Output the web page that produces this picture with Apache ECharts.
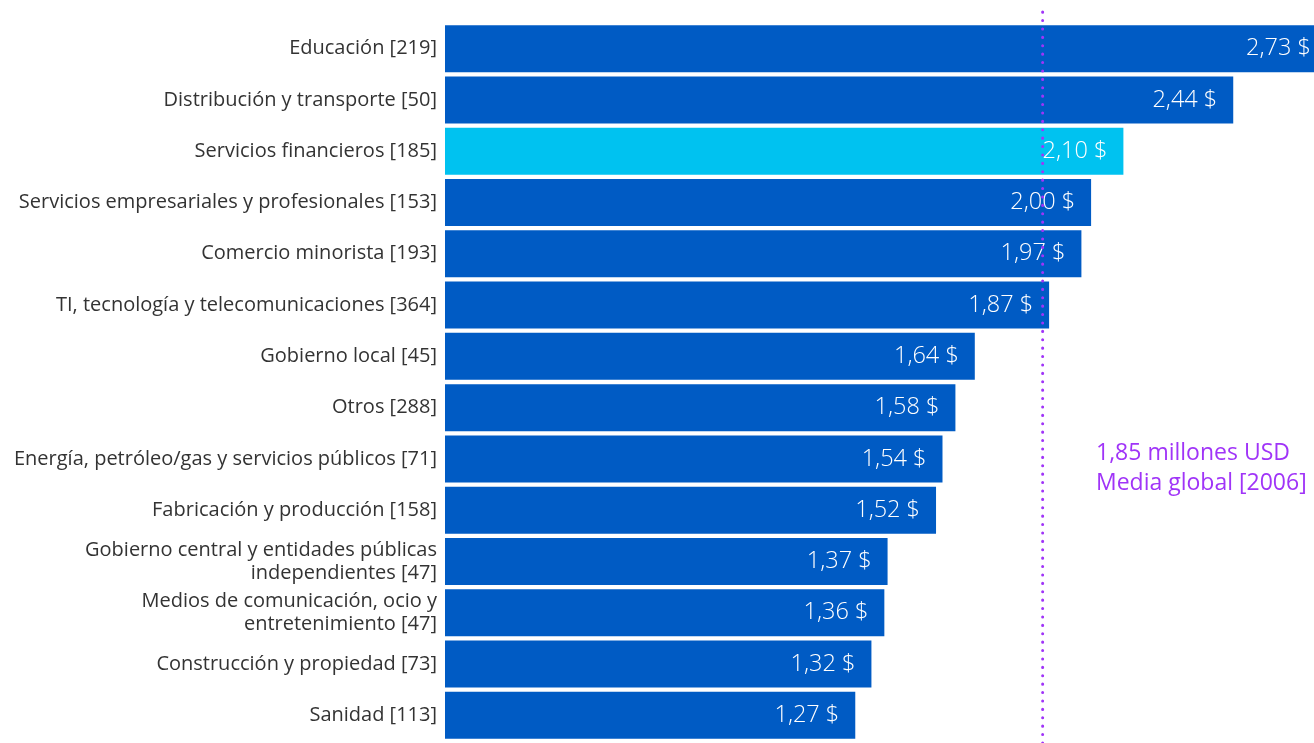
<!DOCTYPE html>
<html>
<head>
<meta charset="utf-8">
<script src="https://cdn.jsdelivr.net/npm/echarts@6/dist/echarts.min.js"></script>
<style>
  html, body { margin: 0; padding: 0; background: #ffffff; }
  #chart { width: 1314px; height: 743px; }
</style>
</head>
<body>
<div id="chart"></div>
<script>
// Sector names, respondents per sector and average cost (millions USD)
const sectors = [
  'Educación',
  'Distribución y transporte',
  'Servicios financieros',
  'Servicios empresariales y profesionales',
  'Comercio minorista',
  'TI, tecnología y telecomunicaciones',
  'Gobierno local',
  'Otros',
  'Energía, petróleo/gas y servicios públicos',
  'Fabricación y producción',
  'Gobierno central y entidades públicas\nindependientes',
  'Medios de comunicación, ocio y\nentretenimiento',
  'Construcción y propiedad',
  'Sanidad'
];
const respondents = [219, 50, 185, 153, 193, 364, 45, 288, 71, 158, 47, 47, 73, 113];
const avgCost = [2.73, 2.44, 2.10, 2.00, 1.97, 1.87, 1.64, 1.58, 1.54, 1.52, 1.37, 1.36, 1.32, 1.27];
const highlighted = 'Servicios financieros';

// Global average
const globalMean = 1.85;
const globalRespondents = 2006;

const BLUE = '#005bc4';
const CYAN = '#00c2f0';
const PURPLE = '#a034f8';
// Axis runs to the right edge; the largest bar is allowed to run past it
const X_MAX = 2.69;
const FONT = '"Open Sans", sans-serif';

const labels = sectors.map((s, i) => `${s} [${respondents[i]}]`);
const fmt = v => v.toFixed(2).replace('.', ',') + ' $';

const chart = echarts.init(document.getElementById('chart'), null, { renderer: 'canvas' });

chart.setOption({
  animation: false,
  backgroundColor: '#ffffff',
  textStyle: { fontFamily: FONT },
  grid: [
    { left: 445, top: 23, right: 0, height: 718, containLabel: false },
    { left: 445, top: 10, right: 0, bottom: 0, containLabel: false }
  ],
  xAxis: [
    { type: 'value', gridIndex: 0, min: 0, max: X_MAX, show: false },
    { type: 'value', gridIndex: 1, min: 0, max: X_MAX, show: false }
  ],
  yAxis: [
    {
      type: 'category', gridIndex: 0, inverse: true, data: labels,
      axisLine: { show: false }, axisTick: { show: false },
      axisLabel: {
        color: '#333333', fontSize: 20, margin: 8, lineHeight: 23,
        fontFamily: FONT, align: 'right'
      }
    },
    { type: 'value', gridIndex: 1, min: 0, max: 1, show: false }
  ],
  series: [
    {
      type: 'bar', xAxisIndex: 0, yAxisIndex: 0,
      barWidth: 47,
      clip: false,
      data: avgCost.map((v, i) => ({
        value: v,
        itemStyle: { color: sectors[i] === highlighted ? CYAN : BLUE }
      })),
      label: {
        show: true, position: 'insideRight', distance: 16,
        color: '#ffffff', fontSize: 23.5, fontWeight: 300,
        fontFamily: FONT,
        formatter: p => fmt(p.value)
      },
      z: 2
    },
    {
      // Dotted vertical reference line for the global average
      type: 'line', xAxisIndex: 1, yAxisIndex: 1,
      data: [[globalMean, 0], [globalMean, 1]],
      symbol: 'none', silent: true,
      lineStyle: { color: PURPLE, width: 3, type: [0.1, 8.3], cap: 'round' },
      z: 5
    }
  ],
  graphic: [
    {
      type: 'text', left: 1096, top: 438, z: 10,
      style: {
        text: `${globalMean.toFixed(2).replace('.', ',')} millones USD\nMedia global [${globalRespondents}]`,
        fill: PURPLE, fontSize: 23, lineHeight: 30,
        fontFamily: FONT
      }
    }
  ]
});
</script>
</body>
</html>
